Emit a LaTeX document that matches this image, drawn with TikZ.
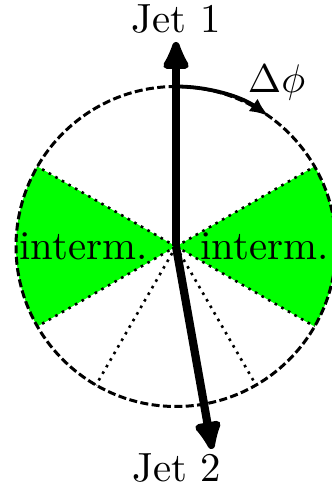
\documentclass[tikz,border=0pt]{standalone}
\usetikzlibrary{arrows.meta,calc}
\definecolor{brightgreen}{RGB}{0,255,0}
\begin{document}
\begin{tikzpicture}[x=0.25pt,y=0.25pt,
  sector/.style={fill=brightgreen,draw=none},
  rayline/.style={line width=0.65pt,dash pattern=on 0.65pt off 1.25pt},
  rim/.style={line width=0.75pt,dash pattern=on 2pt off 0.85pt},
  jet/.style={line width=2.05pt,-{Latex[length=9pt,width=8pt,round]}},
  dphi/.style={line width=0.95pt,-{Latex[length=4.8pt,width=3.8pt]}},
  lbl/.style={inner sep=0pt,anchor=base,font=\fontsize{10.2}{12}\selectfont}]
\useasboundingbox (0,0) rectangle (331,490);
\coordinate (c) at (176,243.5);
\def\R{160}
% green sectors
\fill[sector] (c) -- ++(150:\R) arc (150:210:\R) -- cycle;
\fill[sector] (c) -- ++(-30:\R) arc (-30:30:\R) -- cycle;
% dotted rays
\foreach \a in {30,150,210,240,300,330}
  \draw[rayline] (c) -- ++(\a:\R);
% dashed circle
\draw[rim] (c) circle (\R);
% labels
\node[lbl] (il) at (83.5,230) {interm.};
\node[lbl] (ir) at (264.5,230) {interm.};
\node[lbl] (t1) at (176,457) {Jet 1};
\node[lbl] (t2) at (176.5,8.5) {Jet 2};
\node[lbl] (dp) at (276.5,397.5) {$\Delta\phi$};
% jets
\coordinate (j1) at (176,448);
\coordinate (j2) at (212,41);
\draw[jet] (c) -- (j1);
\draw[jet] (c) -- (j2);
% delta phi arc
\coordinate (a0) at ($(c)+(90:\R)$);
\draw[dphi] (a0) arc (90:54.5:\R);
\end{tikzpicture}
\end{document}
